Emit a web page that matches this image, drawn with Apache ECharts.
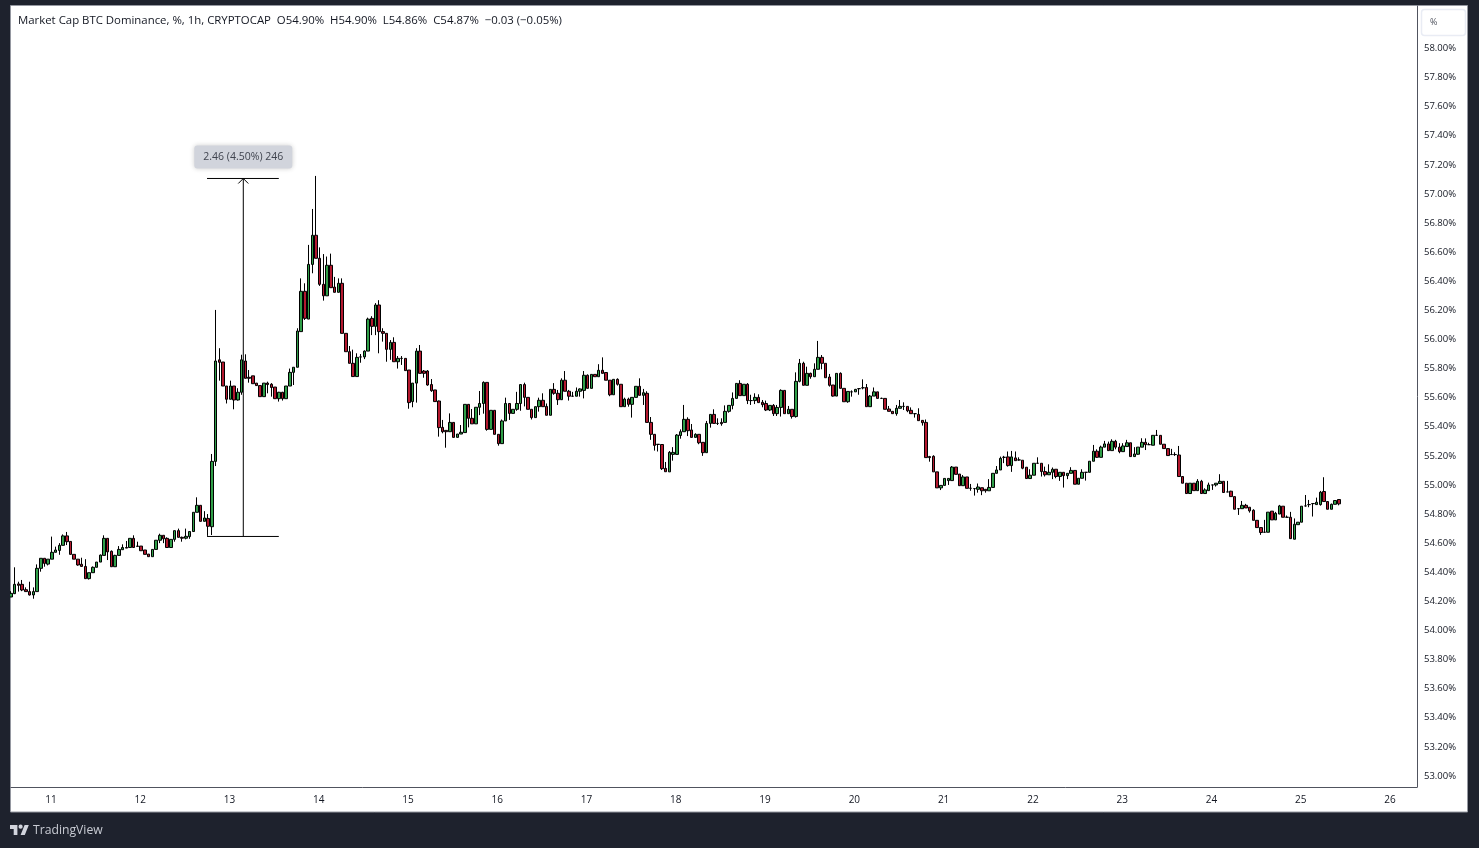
<!DOCTYPE html>
<html><head><meta charset="utf-8">
<style>html,body{margin:0;padding:0;background:#1e222d}#c{width:1479px;height:848px}</style>
<script src="https://cdn.jsdelivr.net/npm/echarts@6/dist/echarts.min.js"></script>
</head><body><div id="c"></div><script>
// Each row: open, close, low, high (BTC dominance, %)
const ohlcEarly = [
[54.23,54.255,54.23,54.27],[54.253,54.317,54.25,54.434],[54.32,54.31,54.267,54.335],[54.317,54.278,54.27,54.347],
[54.28,54.267,54.267,54.296],[54.267,54.244,54.24,54.335],[54.244,54.267,54.218,54.296],[54.267,54.427,54.267,54.454],
[54.427,54.496,54.404,54.496],[54.496,54.461,54.438,54.496],[54.456,54.49,54.447,54.49],[54.49,54.537,54.49,54.645],
[54.537,54.553,54.537,54.576],[54.55,54.585,54.52,54.6],[54.585,54.65,54.585,54.66],[54.65,54.61,54.587,54.677],
[54.612,54.523,54.523,54.612],[54.523,54.49,54.49,54.523],[54.49,54.45,54.445,54.49],[54.455,54.44,54.44,54.5],
[54.44,54.356,54.356,54.49],[54.356,54.397,54.35,54.397],[54.397,54.434,54.397,54.44],[54.434,54.47,54.434,54.47],
[54.47,54.518,54.47,54.522],[54.516,54.633,54.516,54.654],[54.633,54.54,54.484,54.633],[54.544,54.438,54.438,54.55],
[54.438,54.516,54.438,54.52],[54.516,54.557,54.516,54.58],[54.555,54.57,54.555,54.592],[54.57,54.566,54.566,54.615],
[54.57,54.633,54.57,54.633],[54.633,54.57,54.57,54.654],[54.58,54.578,54.578,54.61],[54.58,54.548,54.548,54.58],
[54.553,54.523,54.523,54.553],[54.525,54.507,54.507,54.525],[54.507,54.557,54.507,54.557],[54.557,54.62,54.557,54.62],
[54.62,54.654,54.6,54.665],[54.654,54.63,54.6,54.654],[54.633,54.57,54.57,54.64],[54.57,54.626,54.57,54.626],
[54.626,54.686,54.61,54.686],[54.686,54.64,54.64,54.7],[54.64,54.634,54.61,54.645],[54.634,54.647,54.626,54.7],
[54.645,54.68,54.63,54.68],[54.68,54.812,54.68,54.812],[54.812,54.86,54.812,54.915],[54.86,54.75,54.75,54.86],
[54.75,54.773,54.75,54.82],[54.77,54.716,54.65,54.8]
];
const ohlcSpike = [
[54.713,55.162,54.656,55.213],[55.162,55.852,55.13,56.203],[55.86,55.843,55.717,55.94],[55.845,55.68,55.68,55.845],
[55.68,55.589,55.56,55.68],[55.589,55.68,55.589,55.717],[55.68,55.584,55.52,55.68],[55.584,55.637,55.58,55.665],
[55.637,55.86,55.62,55.895],[55.852,55.733,55.733,55.898],[55.74,55.733,55.703,55.79],[55.75,55.696,55.696,55.75],
[55.7,55.683,55.683,55.7],[55.683,55.607,55.607,55.683],[55.607,55.7,55.607,55.7],[55.7,55.69,55.63,55.71],
[55.692,55.67,55.607,55.7],[55.673,55.593,55.593,55.673],[55.593,55.637,55.573,55.64],[55.637,55.593,55.58,55.64],
[55.593,55.68,55.593,55.68],[55.68,55.774,55.68,55.8],[55.774,55.809,55.687,55.809],[55.809,56.058,55.809,56.077],
[56.054,56.331,56.054,56.42],[56.331,56.145,56.134,56.386],[56.14,56.516,56.14,56.65],[56.516,56.716,56.455,56.897],
[56.716,56.558,56.558,57.124],[56.558,56.379,56.368,56.633],[56.379,56.3,56.267,56.587],[56.3,56.51,56.3,56.57],
[56.51,56.356,56.356,56.59],[56.36,56.324,56.324,56.43],[56.324,56.386,56.324,56.42]
];
const ohlcFall = [
[56.386,56.042,56.042,56.42],[56.042,55.916,55.916,56.042],[55.916,55.836,55.836,55.955],[55.836,55.745,55.745,55.93],
[55.745,55.877,55.745,55.905],[55.88,55.88,55.84,55.9],[55.88,55.92,55.865,55.925],[55.92,56.14,55.92,56.15],
[56.145,56.09,56.03,56.16],[56.09,56.237,56.03,56.25],[56.237,56.054,55.905,56.27],[56.054,56.042,55.985,56.077],
[56.042,55.932,55.847,56.042],[55.932,55.98,55.86,55.996],[55.98,55.847,55.847,56.015],[55.847,55.87,55.8,55.886],
[55.87,55.87,55.825,55.886],[55.87,55.786,55.786,55.87],[55.79,55.566,55.524,55.79],[55.573,55.7,55.534,55.7],
[55.7,55.92,55.566,55.94],[55.92,55.767,55.767,55.962],[55.783,55.767,55.737,55.79],[55.783,55.687,55.682,55.79],
[55.69,55.648,55.64,55.728],[55.653,55.573,55.573,55.653],[55.577,55.394,55.332,55.58],[55.396,55.366,55.355,55.447],
[55.375,55.366,55.256,55.375],[55.366,55.43,55.366,55.492],[55.43,55.327,55.327,55.43],[55.327,55.35,55.327,55.35],
[55.35,55.362,55.35,55.412],[55.36,55.554,55.36,55.554],[55.554,55.458,55.396,55.554],[55.458,55.42,55.42,55.522],
[55.42,55.534,55.42,55.534],[55.534,55.56,55.48,55.646],[55.56,55.705,55.49,55.712],[55.705,55.382,55.373,55.705],
[55.382,55.513,55.382,55.513],[55.513,55.348,55.348,55.513],[55.348,55.284,55.27,55.348],[55.284,55.44,55.284,55.45],
[55.44,55.56,55.44,55.6],[55.56,55.492,55.447,55.56],[55.492,55.52,55.492,55.52],[55.52,55.56,55.51,55.64],
[55.56,55.69,55.51,55.69],[55.69,55.602,55.54,55.703],[55.602,55.52,55.52,55.602],[55.52,55.463,55.45,55.52],
[55.463,55.538,55.463,55.538],[55.538,55.582,55.504,55.6],[55.582,55.538,55.538,55.63],[55.54,55.479,55.479,55.56],
[55.479,55.657,55.479,55.657],[55.657,55.63,55.62,55.7],[55.63,55.586,55.55,55.653],[55.586,55.72,55.586,55.733],
[55.72,55.644,55.644,55.783],[55.644,55.61,55.58,55.653],[55.61,55.61,55.61,55.64],[55.61,55.644,55.61,55.67],
[55.644,55.66,55.607,55.664],[55.65,55.754,55.595,55.783],[55.754,55.664,55.664,55.76],[55.664,55.76,55.664,55.76],
[55.76,55.744,55.744,55.76],[55.744,55.788,55.744,55.83],[55.788,55.767,55.767,55.877],[55.773,55.72,55.72,55.773],
[55.72,55.62,55.61,55.72],[55.62,55.726,55.62,55.726],[55.726,55.692,55.683,55.733],[55.692,55.538,55.538,55.692],
[55.538,55.59,55.538,55.6],[55.59,55.554,55.538,55.6],[55.554,55.602,55.463,55.602],[55.602,55.678,55.602,55.678],
[55.678,55.616,55.616,55.733],[55.616,55.634,55.55,55.66],[55.63,55.43,55.43,55.644],[55.43,55.348,55.31,55.467],
[55.348,55.272,55.236,55.348],[55.28,55.278,55.23,55.28],[55.278,55.112,55.103,55.278],[55.114,55.091,55.091,55.158],
[55.09,55.224,55.09,55.233],[55.21,55.224,55.167,55.26],[55.21,55.343,55.21,55.35]
];
const ohlcRise = [
[55.34,55.366,55.318,55.382],[55.366,55.451,55.366,55.55],[55.451,55.373,55.336,55.465],[55.378,55.327,55.327,55.419],
[55.327,55.348,55.327,55.355],[55.348,55.29,55.28,55.348],[55.293,55.222,55.2,55.293],[55.222,55.423,55.222,55.44],
[55.423,55.485,55.394,55.485],[55.485,55.423,55.423,55.52],[55.423,55.423,55.412,55.458],[55.43,55.421,55.407,55.458],
[55.43,55.506,55.43,55.547],[55.506,55.547,55.497,55.547],[55.547,55.595,55.52,55.636],[55.595,55.698,55.595,55.698],
[55.698,55.614,55.614,55.72],[55.614,55.692,55.614,55.692],[55.692,55.58,55.556,55.7],[55.58,55.58,55.55,55.62],
[55.58,55.602,55.556,55.63],[55.602,55.566,55.566,55.623],[55.568,55.552,55.534,55.584],[55.56,55.515,55.508,55.58],
[55.515,55.547,55.508,55.547],[55.547,55.49,55.474,55.556],[55.49,55.533,55.474,55.55],[55.533,55.65,55.47,55.657],
[55.65,55.49,55.49,55.65],[55.49,55.52,55.49,55.543],[55.52,55.47,55.456,55.52],[55.47,55.712,55.463,55.774],
[55.712,55.836,55.705,55.866],[55.836,55.685,55.685,55.847],[55.685,55.767,55.685,55.813],[55.767,55.744,55.73,55.772],
[55.744,55.795,55.744,55.836],[55.795,55.877,55.795,55.99],[55.877,55.836,55.795,55.893],[55.836,55.737,55.737,55.836],
[55.742,55.685,55.676,55.763],[55.687,55.611,55.607,55.687],[55.611,55.767,55.611,55.767],[55.767,55.664,55.664,55.774],
[55.664,55.572,55.572,55.664],[55.572,55.643,55.565,55.643],[55.64,55.64,55.607,55.65],[55.64,55.657,55.64,55.66],
[55.662,55.662,55.62,55.665],[55.668,55.668,55.657,55.726],[55.67,55.538,55.538,55.694],[55.538,55.611,55.538,55.618],
[55.611,55.64,55.611,55.67],[55.64,55.595,55.595,55.64],[55.595,55.595,55.595,55.6],[55.595,55.52,55.52,55.595],
[55.522,55.506,55.506,55.543],[55.506,55.49,55.49,55.506],[55.49,55.527,55.476,55.55],[55.527,55.54,55.527,55.584],
[55.54,55.54,55.515,55.568],[55.54,55.51,55.5,55.54],[55.513,55.49,55.49,55.533],[55.49,55.49,55.463,55.49],
[55.485,55.442,55.442,55.527],[55.444,55.428,55.408,55.444],[55.43,55.188,55.188,55.45],[55.195,55.188,55.16,55.2],
[55.197,55.09,55.09,55.204],[55.09,54.98,54.98,55.09],[54.98,54.997,54.965,54.997],[54.997,55.045,54.997,55.045],
[55.03,55.045,55.0,55.045],[55.03,55.123,55.03,55.13],[55.123,55.073,55.073,55.123],[55.075,54.995,54.995,55.075],
[54.995,55.055,54.995,55.068],[55.055,54.977,54.977,55.055],[54.977,54.977,54.96,55.007],[54.975,54.975,54.927,54.975],
[54.97,54.986,54.947,55.01],[54.981,54.96,54.93,54.981],[54.97,54.96,54.947,54.97],[54.96,54.983,54.96,55.04],
[54.983,55.08,54.983,55.08],[55.08,55.103,55.08,55.13],[55.103,55.183,55.103,55.195]
];
const ohlcLate = [
[55.19,55.19,55.15,55.2],[55.193,55.133,55.126,55.23],[55.133,55.193,55.09,55.234],[55.186,55.167,55.167,55.23],
[55.172,55.172,55.167,55.19],[55.17,55.115,55.108,55.17],[55.122,55.044,55.044,55.122],[55.044,55.067,55.044,55.108],
[55.067,55.149,55.067,55.149],[55.149,55.149,55.149,55.19],[55.149,55.092,55.058,55.149],[55.092,55.07,55.058,55.126],
[55.07,55.087,55.07,55.142],[55.087,55.108,55.04,55.12],[55.108,55.058,55.046,55.108],[55.058,55.087,55.028,55.087],
[55.087,55.064,54.982,55.087],[55.064,55.08,55.04,55.08],[55.08,55.1,55.08,55.122],[55.1,55.005,55.005,55.1],
[55.005,55.046,55.005,55.046],[55.046,55.087,55.046,55.108],[55.087,55.087,55.03,55.087],[55.087,55.163,55.087,55.163],
[55.163,55.232,55.163,55.275],[55.232,55.19,55.186,55.245],[55.19,55.26,55.19,55.27],[55.26,55.282,55.26,55.303],
[55.282,55.236,55.236,55.298],[55.236,55.3,55.236,55.314],[55.3,55.26,55.245,55.31],[55.26,55.229,55.218,55.287],
[55.229,55.268,55.229,55.287],[55.264,55.29,55.264,55.31],[55.29,55.195,55.195,55.29],[55.195,55.213,55.195,55.26],
[55.211,55.26,55.207,55.26],[55.26,55.293,55.26,55.321],[55.293,55.277,55.24,55.32],[55.277,55.277,55.277,55.29],
[55.273,55.341,55.273,55.341],[55.341,55.341,55.341,55.378],[55.341,55.28,55.28,55.341],[55.28,55.25,55.25,55.28],
[55.25,55.202,55.202,55.25],[55.209,55.209,55.209,55.248],[55.209,55.209,55.2,55.225],[55.206,55.058,55.058,55.268],
[55.058,55.012,55.012,55.058],[55.012,54.941,54.941,55.012],[54.941,55.012,54.941,55.012],[55.012,54.961,54.961,55.012],
[54.961,55.025,54.961,55.04],[55.025,54.941,54.941,55.035],[54.941,54.966,54.941,54.977],[54.961,55.0,54.961,55.016],
[55.0,55.0,54.966,55.0],[55.0,55.012,54.989,55.012],[55.01,55.025,55.01,55.074],[55.025,54.948,54.948,55.025],
[54.952,54.952,54.952,55.028],[54.957,54.92,54.92,54.96],[54.92,54.833,54.833,54.92],[54.837,54.837,54.794,54.837],
[54.837,54.86,54.837,54.89],[54.86,54.842,54.842,54.87],[54.847,54.822,54.81,54.847],[54.826,54.757,54.757,54.833],
[54.757,54.707,54.707,54.757],[54.707,54.673,54.657,54.707],[54.675,54.675,54.675,54.76],[54.675,54.813,54.675,54.813],
[54.82,54.76,54.76,54.82],[54.76,54.805,54.76,54.815],[54.8,54.856,54.8,54.863],[54.854,54.778,54.778,54.854],
[54.778,54.778,54.778,54.79],[54.778,54.631,54.631,54.815],[54.627,54.73,54.627,54.77],[54.727,54.744,54.727,54.744],
[54.744,54.854,54.744,54.854],[54.856,54.856,54.851,54.931],[54.865,54.865,54.847,54.897],[54.872,54.872,54.783,54.872],
[54.865,54.881,54.865,54.913],[54.865,54.95,54.858,54.959],[54.955,54.886,54.886,55.053],[54.886,54.833,54.833,54.886],
[54.833,54.867,54.833,54.872],[54.867,54.893,54.867,54.893],[54.9,54.87,54.86,54.9]
];
const dayLabels = ['11','12','13','14','15','16','17','18','19','20','21','22','23','24','25','26'];
const yTicks = [53,53.2,53.4,53.6,53.8,54,54.2,54.4,54.6,54.8,55,55.2,55.4,55.6,55.8,56,56.2,56.4,56.6,56.8,57,57.2,57.4,57.6,57.8,58];
const measureX = [52.7,72,null,52.7,72,null,62.45,62.45,null,61.1,62.45,63.8];
const measureY = [57.1065,57.1065,null,54.646,54.646,null,54.646,57.1065,null,57.072,57.1065,57.072];
const measureText = '2.46 (4.50%) 246';
const headerText = 'Market Cap BTC Dominance, %, 1h, CRYPTOCAP  O54.90%  H54.90%  L54.86%  C54.87%  \u22120.03 (\u22120.05%)';

const bars = [...ohlcEarly, ...ohlcSpike, ...ohlcFall, ...ohlcRise, ...ohlcLate];
const slots = 379, firstDay = 11, perDay = 24;
const categories = Array.from({length: slots}, (_, i) =>
  (i - firstDay) % perDay === 0 && i >= firstDay ? dayLabels[(i - firstDay) / perDay] : '');
const FONT = 'Open Sans';
const chart = echarts.init(document.getElementById('c'), null, {renderer: 'canvas'});
chart.setOption({
  animation: false,
  backgroundColor: '#1e222d',
  textStyle: {fontFamily: FONT},
  grid: {left: 11, right: 62, top: 6, bottom: 61, containLabel: false},
  xAxis: [{
    type: 'category', data: categories, boundaryGap: false,
    axisLine: {show: true, onZero: false, lineStyle: {color: '#50535e', width: 1}}, axisTick: {show: false},
    splitLine: {show: false},
    axisLabel: {interval: (i, v) => v !== '', color: '#131722', fontSize: 10, margin: 8, hideOverlap: false, padding: [0, 2, 0, 0]}
  }, {type: 'value', show: false, min: 0, max: slots - 1, scale: true}],
  yAxis: {
    type: 'value', position: 'right', min: 52.924, max: 58.292, scale: true,
    axisLine: {show: true, onZero: false, lineStyle: {color: '#50535e', width: 1}}, axisTick: {show: false},
    splitLine: {show: false},
    axisLabel: {customValues: yTicks, formatter: v => v.toFixed(2) + '%', color: '#131722', fontSize: 9.5, margin: 7, padding: [3, 0, 0, 0]}
  },
  series: [{
    type: 'candlestick', data: bars, barWidth: 3, clip: true,
    itemStyle: {color: '#2f9e48', color0: '#b3182e', borderColor: '#000', borderColor0: '#000', borderColorDoji: '#000', borderWidth: 1}
  }, {
    type: 'line', xAxisIndex: 1, showSymbol: false, symbol: 'none', connectNulls: false, silent: true,
    lineStyle: {color: '#000', width: 1},
    data: measureX.map((x, i) => x === null ? [null, null] : [x, measureY[i]]),
    markPoint: {
      silent: true, symbol: 'path://M3,0H95Q98,0 98,3V20Q98,23 95,23H3Q0,23 0,20V3Q0,0 3,0Z', symbolSize: [98, 23], symbolKeepAspect: false,
      itemStyle: {color: '#d1d4dc', shadowBlur: 5, shadowColor: 'rgba(0,0,0,0.2)'},
      label: {show: true, formatter: measureText, color: '#40444f', fontSize: 10.5, fontFamily: FONT},
      data: [{coord: [62.45, 57.255]}]
    }
  }],
  graphic: [
    {type: 'rect', z: -100, silent: true, shape: {x: 10.5, y: 5.5, width: 1457, height: 806.5}, style: {fill: '#fff', stroke: '#9598a1', lineWidth: 1}},
    {type: 'rect', z: 100, silent: true, shape: {x: 1421.5, y: 9.5, width: 44, height: 26, r: 3}, style: {fill: '#fff', stroke: '#e9ecf4', lineWidth: 1.5}},
    {type: 'text', z: 100, silent: true, style: {x: 1430, y: 18, text: '%', fill: '#50535e', font: '9px ' + FONT}},
    {type: 'text', z: 100, silent: true, style: {x: 18, y: 15, text: headerText, fill: '#131722', font: '11.4px ' + FONT}},
    {type: 'polygon', z: 100, silent: true, shape: {points: [[10,825],[17.4,825],[17.4,835],[13.7,835],[13.7,828.9],[10,828.9]]}, style: {fill: '#d1d4dc'}},
    {type: 'polygon', z: 100, silent: true, shape: {points: [[20.6,835],[24.6,825],[28.8,825],[24.8,835]]}, style: {fill: '#d1d4dc'}},
    {type: 'circle', z: 100, silent: true, shape: {cx: 20.6, cy: 826.7, r: 2.1}, style: {fill: '#d1d4dc'}},
    {type: 'text', z: 100, silent: true, style: {x: 33, y: 825, text: 'TradingView', fill: '#c8cbd3', font: '12.2px ' + FONT}},
    {type: 'rect', z: 100, silent: true, shape: {x: 0, y: 0, width: 10, height: 848}, style: {fill: '#1e222d'}}
  ]
});
</script></body></html>
